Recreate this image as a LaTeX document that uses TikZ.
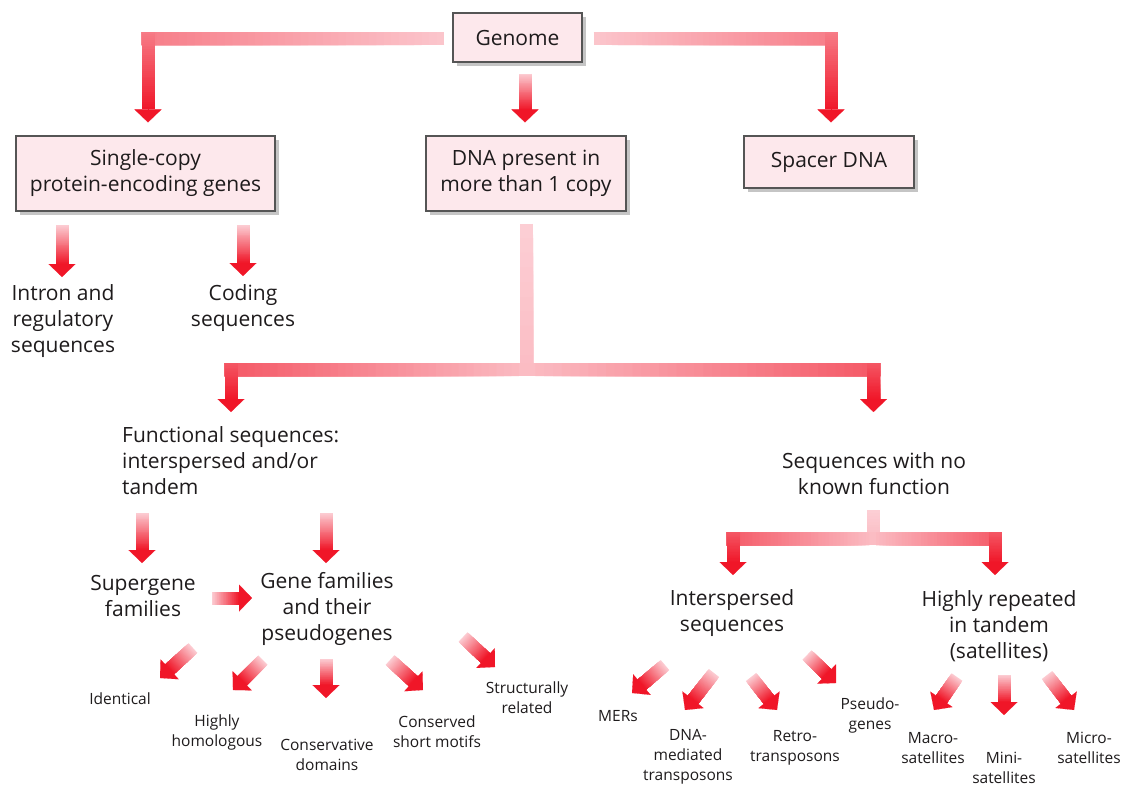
\documentclass[tikz,border=0pt]{standalone}
\usepackage{fontspec}
\setmainfont{Open Sans}
\usetikzlibrary{arrows.meta,calc,shadows,positioning}

\definecolor{arrowred}{RGB}{240,22,40}
\definecolor{arrowpale}{RGB}{252,206,212}
\definecolor{boxfill}{RGB}{253,232,236}
\definecolor{boxline}{RGB}{85,85,85}
\definecolor{ink}{RGB}{30,27,28}

% shaded bar: from, to, start tint, end tint
\newcommand\redbar[4]{%
  \foreach \i in {1,...,40}{%
    \pgfmathtruncatemacro\tint{#3+(#4-#3)*(\i-0.5)/40}%
    \draw[shaft, draw=arrowred!\tint!arrowpale] ($(#1)!{(\i-1)/40}!(#2)$) -- (#2);
  }}
% shaded bar with a head at its far end
\newcommand\redarrow[4]{%
  \coordinate (headbase) at ($(#2)!13pt!(#1)$);
  \redbar{#1}{headbase}{#3}{#4}
  \draw[arrowred, line width=0.1pt, -{Triangle[width=27pt,length=13pt]}] (headbase) -- (#2);
}
% bar across, then arrow down: from, tip, start, corner, end tints
\newcommand\redelbow[5]{%
  \coordinate (elbow) at (#1 -| #2);
  \coordinate (elbowx) at ($(elbow)!-6.5pt!(#1)$);
  \coordinate (elbowy) at ($(elbow)!-6.5pt!(#2)$);
  \redbar{#1}{elbowx}{#3}{#4}
  \redarrow{elbowy}{#2}{#4}{#5}
}

\begin{document}
\begin{tikzpicture}[x=1pt, y=-1pt, font=\fontsize{21}{26}\selectfont, text=ink]
	\tikzset{box/.style={draw=boxline, line width=1.2pt, fill=boxfill, inner sep=0pt, align=center,
			drop shadow={shadow xshift=3.5pt, shadow yshift=-3.5pt, fill=black!45}},
		txt/.style={inner sep=0pt, align=center},
		leaf/.style={inner sep=0pt, align=center, font=\fontsize{15.5}{20}\selectfont},
		shaft/.style={line width=13pt, line cap=butt}};
	\useasboundingbox (0,0) rectangle (1123,788);

	% boxes
	\node[box, minimum width=129pt, minimum height=49pt] (genome) at (517.5,37.5) {Genome};
	\node[box, minimum width=259pt, minimum height=75pt] (single) at (145.5,173.5) {Single-copy\\protein-encoding genes};
	\node[box, minimum width=200pt, minimum height=75pt] (dna) at (526,173.5) {DNA present in\\more than 1 copy};
	\node[box, minimum width=170pt, minimum height=52pt] (spacer) at (829,162) {Spacer DNA};

	% second and third level
	\node[txt] (intron) at (63,321) {Intron and\\regulatory\\sequences};
	\node[txt] (coding) at (243,308) {Coding\\sequences};
	\node[txt, anchor=west, align=left] (func) at (122,461) {Functional sequences:\\interspersed and/or\\tandem};
	\node[txt] (nofunc) at (874,474) {Sequences with no\\known function};
	\node[txt] (supergene) at (143,596) {Supergene\\families};
	\node[txt] (genefam) at (327,609) {Gene families\\and their\\pseudogenes};
	\node[txt] (inter) at (732,613) {Interspersed\\sequences};
	\node[txt] (repeat) at (999,626) {Highly repeated\\in tandem\\(satellites)};

	% from the genome
	\coordinate (gW) at ($(genome.west)+(-8,1)$);
	\coordinate (gE) at ($(genome.east)+(11,1)$);
	\coordinate (gS) at ($(genome.south)+(7.5,11)$);
	\coordinate (sN) at ($(single.north)+(2.5,-13)$);
	\coordinate (pN) at ($(spacer.north)+(2,-13)$);
	\coordinate (dN) at ($(dna.north)+(-1,-13)$);
	\redelbow{gW}{sN}{5}{45}{100}
	\redelbow{gE}{pN}{5}{45}{100}
	\redarrow{gS}{dN}{0}{100}

	% from the repeated DNA
	\coordinate (dS) at ($(dna.south)+(0.5,12)$);
	\coordinate (dJ) at ($(dS)+(0,146)$);
	\coordinate (fN) at (231,412);
	\coordinate (nN) at (873.5,412);
	\redbar{dS}{dJ}{0}{10}
	\redelbow{dJ}{fN}{10}{65}{100}
	\redelbow{dJ}{nN}{10}{65}{100}

	% from the sequences with no known function
	\coordinate (nS) at ($(nofunc.south)+(-1,15)$);
	\coordinate (nJ) at ($(nS)+(0,28.5)$);
	\coordinate (iN) at (733,575);
	\coordinate (rN) at (995,575);
	\redbar{nS}{nJ}{0}{10}
	\redelbow{nJ}{iN}{10}{65}{100}
	\redelbow{nJ}{rN}{10}{65}{100}

	% short arrows between the texts
	\foreach \name/\tx/\ty/\hx/\hy in {intron/62/225/62/277, coding/243/225/243/276,
		supergene/142/513/142/563, genefam/326/513/326/563, sg-gf/212/598/252/598}{
		\coordinate (t-\name) at (\tx,\ty);
		\coordinate (h-\name) at (\hx,\hy);
		\redarrow{t-\name}{h-\name}{0}{100}
	}

	% leaves
	\foreach \name/\x/\y/\lbl/\tx/\ty/\hx/\hy in {identical/120/699/Identical/193/648/160/678,
		homol/217/732/Highly\\homologous/263/660/233/690,
		consdom/327/755/Conservative\\domains/326/659/326/698,
		consmot/437/732/Conserved\\short motifs/390/660/423/690,
		struct/527/698/Structurally\\related/463/637/495/667,
		mers/618/716/MERs/665/665/632/693,
		dnatr/688/757/DNA-\\mediated\\transposons/714/673/685/710,
		retro/795/748/Retro-\\transposons/751/677/777/710,
		pseudo/870/715/Pseudo-\\genes/807/655/836/683,
		macro/933/748/Macro-\\satellites/957/677/934/710,
		mini/1004/768/Mini-\\satellites/1004/675/1004/715,
		micro/1089/748/Micro-\\satellites/1047/675/1074/710}{
		\node[leaf] (\name) at (\x,\y) {\lbl};
		\coordinate (t-\name) at (\tx,\ty);
		\coordinate (h-\name) at (\hx,\hy);
		\redarrow{t-\name}{h-\name}{0}{100}
	}
\end{tikzpicture}
\end{document}
